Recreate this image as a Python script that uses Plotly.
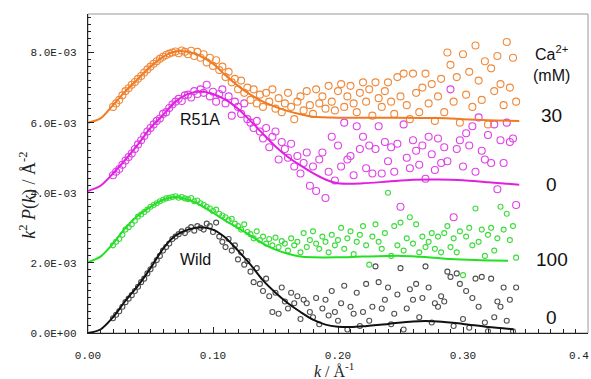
import numpy as np
import plotly.graph_objects as go

# ---------------- data (values in units of 1e-3) ----------------
# scattered points share a sampling grid in k
k_pts = [round(0.02 + 0.0025 * i, 4) for i in range(130)]

orange_pts = [6.45, 6.55, 6.65, 6.78, 6.9, 6.98, 7.08, 7.16, 7.25, 7.33, 7.43, 7.52,
              7.6, 7.68, 7.75, 7.82, 7.88, 7.93, 7.97, 8.0, 8.03, 7.98, 8.06, 8.02,
              7.95, 8.05, 7.9, 8.02, 7.85, 7.95, 7.72, 7.85, 7.62, 7.78, 7.5, 7.6,
              7.3, 7.45, 7.15, 7.25, 6.95, 7.2, 6.85, 7.0, 6.65, 6.95, 6.55, 6.8,
              6.45, 6.85, 6.6, 6.95, 6.4, 6.7, 6.3, 6.55, 6.85, 6.45, 6.1, 6.6,
              6.75, 6.35, 6.9, 6.5, 6.25, 6.95, 6.55, 6.75, 6.4, 7.05, 6.6, 6.35,
              6.9, 7.1, 6.45, 6.75, 7.05, 6.55, 6.3, 6.85, 7.15, 6.6, 6.95, 6.2,
              7.15, 6.7, 6.45, 6.9, 7.15, 6.6, 6.25, 7.3, 6.75, 7.4, 6.5, 6.1,
              7.4, 6.85, 6.3, 7.0, 7.4, 6.55, 7.1, 6.05, 6.75, 7.25, 6.3, 8.0,
              7.65, 6.6, 7.3, 6.0, 7.95, 6.8, 7.45, 6.45, 8.2, 7.2, 6.65, 7.75,
              5.95, 7.55, 6.9, 7.9, 7.1, 6.5, 8.3, 7.0, 7.85, 6.6]

magenta_pts = [4.5, 4.6, 4.68, 4.8, 4.92, 5.02, 5.12, 5.25, 5.38, 5.5, 5.62, 5.75,
               5.85, 5.95, 6.05, 6.12, 6.25, 6.3, 6.42, 6.52, 6.6, 6.68, 6.62, 6.78,
               6.8, 6.72, 6.9, 6.82, 6.95, 6.85, 7.08, 6.75, 6.88, 6.6, 6.82, 6.95,
               6.55, 6.75, 6.2, 6.6, 6.45, 6.25, 6.55, 6.1, 6.0, 5.85, 6.05, 5.75,
               5.55, 5.85, 5.3, 5.6, 5.75, 4.95, 5.45, 5.25, 5.0, 5.4, 4.75, 5.05,
               4.55, 4.85, 5.15, 4.2, 4.75, 4.05, 4.95, 5.15, 3.85, 4.6, 5.6, 4.35,
               5.35, 4.75, 6.0, 4.95, 5.05, 4.5, 5.9, 5.25, 5.6, 4.7, 5.35, 4.55,
               5.25, 5.9, 4.55, 5.45, 4.9, 5.3, 4.6, 5.4, 3.6, 5.95, 5.0, 4.7,
               5.5, 5.2, 4.8, 5.35, 4.4, 5.6, 5.1, 4.65, 5.55, 4.85, 5.3, 4.9,
               6.95, 3.3, 5.25, 5.5, 4.75, 5.7, 5.35, 5.9, 4.6, 6.15, 5.2, 4.95,
               5.65, 4.85, 5.95, 4.1, 5.5, 4.85, 6.0, 5.45, 5.55, 3.65]

green_pts = [2.5, 2.6, 2.68, 2.8, 2.95, 3.02, 3.1, 3.2, 3.32, 3.38, 3.45, 3.52,
             3.6, 3.65, 3.7, 3.76, 3.8, 3.84, 3.86, 3.88, 3.9, 3.86, 3.88, 3.84,
             3.82, 3.85, 3.76, 3.78, 3.7, 3.66, 3.6, 3.55, 3.48, 3.52, 3.4, 3.35,
             3.3, 3.22, 3.26, 3.12, 3.05, 2.95, 3.1, 2.88, 2.82, 2.7, 2.9, 2.65,
             2.75, 2.55, 2.68, 2.5, 2.72, 2.45, 2.62, 2.55, 2.35, 2.7, 2.5, 2.6,
             2.3, 2.85, 2.45, 2.65, 2.9, 2.55, 2.4, 2.75, 2.6, 2.3, 2.8, 2.5,
             2.65, 3.0, 2.4, 2.7, 2.9, 2.25, 2.6, 2.8, 3.05, 2.5, 1.95, 2.75,
             3.1, 2.6, 2.4, 2.85, 4.0, 2.2, 3.05, 2.5, 3.15, 2.35, 2.7, 3.3,
             2.55, 3.1, 2.3, 2.75, 2.45, 2.6, 2.85, 2.4, 2.75, 2.3, 2.85, 3.05,
             2.45, 2.7, 2.3, 2.9, 1.65, 2.75, 3.0, 2.5, 3.55, 2.6, 2.95, 2.2,
             2.8, 3.0, 2.35, 2.7, 3.6, 2.95, 3.4, 2.65, 3.05, 2.15]

black_pts = [0.42, 0.52, 0.62, 0.75, 0.88, 0.98, 1.08, 1.2, 1.32, 1.45, 1.55, 1.7,
             1.82, 1.95, 2.08, 2.2, 2.35, 2.45, 2.55, 2.68, 2.75, 2.82, 2.9, 2.85,
             2.95, 3.02, 2.92, 3.05, 3.0, 2.95, 3.12, 3.05, 2.88, 3.15, 2.75, 2.6,
             2.45, 2.68, 2.35, 2.5, 2.1, 2.3, 1.95, 2.05, 1.75, 1.45, 1.85, 1.4,
             1.2, 1.55, 1.05, 0.6, 1.15, 0.55, 1.3, 0.9, 0.7, 1.15, 0.85, 1.05,
             0.4, 0.95, 0.85, 0.6, 0.45, 1.0, 0.25, 0.7, 0.95, 0.5, 1.2, 0.6,
             0.35, 0.85, 1.35, 0.1, 0.75, 0.55, 1.15, 0.2, 0.6, 1.4, 0.35, 0.75,
             1.9, 1.45, 0.7, 0.95, 1.3, 0.25, 0.55, 1.1, 1.85, 0.1, 0.7, 1.25,
             0.95, 1.4, 0.45, 1.0, 1.9, 1.3, 0.3, 0.85, 0.75, 1.05, 0.9, 1.75,
             1.6, 0.2, 1.7, 1.4, 0.4, 1.2, 0.15, 1.0, 1.55, 0.75, 1.6, 0.3,
             0.05, 1.55, 0.45, 0.9, 0.75, 1.3, 0.35, 0.95, 0.05, 1.3]

# fitted curves
orange_k = [0, 0.01, 0.02, 0.03, 0.04, 0.05, 0.06, 0.07, 0.08, 0.09, 0.10, 0.11, 0.12,
            0.13, 0.14, 0.15, 0.16, 0.17, 0.18, 0.20, 0.24, 0.28, 0.30, 0.32, 0.345]
orange_fit = [6.0, 6.12, 6.5, 6.9, 7.25, 7.6, 7.88, 8.03, 8.02, 7.9, 7.68, 7.35, 7.05,
              6.8, 6.6, 6.45, 6.33, 6.24, 6.17, 6.14, 6.14, 6.13, 6.1, 6.07, 6.05]

magenta_k = [0, 0.01, 0.02, 0.03, 0.04, 0.05, 0.06, 0.07, 0.08, 0.09, 0.10, 0.11, 0.12,
             0.13, 0.14, 0.15, 0.16, 0.17, 0.18, 0.19, 0.20, 0.22, 0.24, 0.26, 0.28,
             0.30, 0.32, 0.345]
magenta_fit = [4.05, 4.2, 4.55, 4.95, 5.38, 5.85, 6.22, 6.6, 6.82, 6.89, 6.82, 6.66, 6.4,
               6.05, 5.68, 5.32, 5.02, 4.78, 4.56, 4.38, 4.27, 4.27, 4.32, 4.37, 4.38,
               4.36, 4.3, 4.23]

green_k = [0, 0.01, 0.02, 0.03, 0.04, 0.05, 0.06, 0.07, 0.08, 0.09, 0.10, 0.11, 0.12,
           0.13, 0.14, 0.15, 0.16, 0.17, 0.18, 0.20, 0.22, 0.25, 0.27, 0.29, 0.31, 0.336]
green_fit = [2.02, 2.18, 2.55, 3.0, 3.35, 3.6, 3.8, 3.88, 3.8, 3.65, 3.43, 3.2, 3.0,
             2.78, 2.55, 2.38, 2.26, 2.18, 2.16, 2.16, 2.18, 2.2, 2.17, 2.11, 2.08, 2.06]

black_k = [0, 0.01, 0.02, 0.03, 0.04, 0.05, 0.06, 0.07, 0.08, 0.09, 0.10, 0.11, 0.12,
           0.13, 0.14, 0.15, 0.16, 0.17, 0.18, 0.19, 0.20, 0.21, 0.22, 0.24, 0.26,
           0.28, 0.30, 0.32, 0.34]
black_fit = [0, 0.1, 0.45, 0.92, 1.35, 1.85, 2.4, 2.78, 2.95, 3.02, 2.95, 2.72, 2.35,
             1.95, 1.5, 1.15, 0.85, 0.6, 0.38, 0.24, 0.18, 0.17, 0.19, 0.26, 0.33,
             0.33, 0.26, 0.17, 0.11]

y_tickvals = [0, 0.002, 0.004, 0.006, 0.008]
y_ticktext = ["0.0E+00", "2.0E-03", "4.0E-03", "6.0E-03", "8.0E-03"]
x_tickvals = [0, 0.1, 0.2, 0.3, 0.4]
x_ticktext = ["0.00", "0.10", "0.20", "0.30", ""]
x_last_label = "0.4"   # drawn right-aligned at the frame edge, as in the original

ca_labels = ["30", "0", "100", "0"]

SCALE = 1e-3

series = [
    # name, pts, k_fit, fit, point colour, line colour, marker size
    ("Wild 0", black_pts, black_k, black_fit, "#505050", "#111111", 5),
    ("Wild 100", green_pts, green_k, green_fit, "#3ddc3d", "#22e022", 5),
    ("R51A 0", magenta_pts, magenta_k, magenta_fit, "#e040e8", "#e020e0", 7),
    ("R51A 30", orange_pts, orange_k, orange_fit, "#f08a3c", "#f07a22", 7),
]

fig = go.Figure()
for name, pts, kf, fit, pc, lc, ms in series:
    fig.add_trace(go.Scatter(
        x=k_pts, y=[v * SCALE for v in pts], mode="markers", name=name + " data",
        marker=dict(symbol="circle-open", size=ms, color=pc, line=dict(width=1.1, color=pc)),
        showlegend=False, hoverinfo="skip"))
for name, pts, kf, fit, pc, lc, ms in series:
    fig.add_trace(go.Scatter(
        x=kf, y=[v * SCALE for v in fit], mode="lines", name=name + " fit",
        line=dict(color=lc, width=2, shape="spline", smoothing=0.8),
        showlegend=False, hoverinfo="skip"))

tick_font = dict(family="Liberation Mono", size=11, color="#222")
fig.update_xaxes(
    range=[0, 0.4], tickvals=x_tickvals, ticktext=x_ticktext, automargin=False,
    ticks="inside", ticklen=6, tickcolor="#222", showline=True, linecolor="#222",
    linewidth=1.2, showgrid=False, zeroline=False, tickfont=tick_font,
    ticklabelstandoff=12,
    minor=dict(dtick=0.01, ticks="inside", ticklen=4, tickcolor="#222", showgrid=False),
)
fig.update_yaxes(
    range=[0, 0.0091], tickvals=y_tickvals, ticktext=y_ticktext, automargin=False,
    ticks="inside", ticklen=6, tickcolor="#222", showline=True, linecolor="#222",
    linewidth=1.2, showgrid=False, zeroline=False, tickfont=tick_font,
    ticklabelstandoff=8,
    minor=dict(dtick=0.0002, ticks="inside", ticklen=3, tickcolor="#222", showgrid=False),
)

annotations = [
    dict(xref="paper", yref="paper", x=-0.148, y=0.43, textangle=-90, showarrow=False,
         text="<i>k</i><sup>2</sup> <i>P</i>(<i>k</i>) / Å<sup>-2</sup>",
         font=dict(family="Liberation Serif", size=18, color="#222")),
    dict(xref="paper", yref="paper", x=0.492, y=-0.115, yanchor="middle", showarrow=False,
         text="<i>k</i> / Å<sup>-1</sup>",
         font=dict(family="Liberation Serif", size=16, color="#222")),
    dict(xref="paper", yref="paper", x=1, xshift=3, y=-0.072, xanchor="right",
         yanchor="middle", showarrow=False, text=x_last_label, font=tick_font),
    dict(x=0.0896, y=6.09e-3, text="R51A", showarrow=False,
         font=dict(family="Liberation Sans", size=16, color="#111")),
    dict(x=0.0856, y=2.09e-3, text="Wild", showarrow=False,
         font=dict(family="Liberation Sans", size=16, color="#111")),
    dict(x=0.371, y=8.0e-3, text="Ca<sup>2+</sup>", showarrow=False,
         font=dict(family="Liberation Sans", size=16, color="#111")),
    dict(x=0.371, y=7.34e-3, text="(mM)", showarrow=False,
         font=dict(family="Liberation Sans", size=16, color="#111")),
]
for lbl, yy in zip(ca_labels, [6.2e-3, 4.23e-3, 2.09e-3, 0.43e-3]):
    annotations.append(dict(x=0.371, y=yy, text=lbl, showarrow=False,
                            font=dict(family="Liberation Sans", size=19, color="#111")))

fig.update_layout(
    width=591, height=379,
    margin=dict(l=88, r=3, t=14, b=46),
    paper_bgcolor="white", plot_bgcolor="white",
    annotations=annotations,
    shapes=[dict(type="rect", xref="paper", yref="paper", x0=0, y0=0, x1=1, y1=1,
                 line=dict(color="#999", width=1), layer="below")],
)

fig.write_html("out.html", config={"displayModeBar": False},
               post_script="document.body.style.margin='0';document.body.style.overflow='hidden';")
